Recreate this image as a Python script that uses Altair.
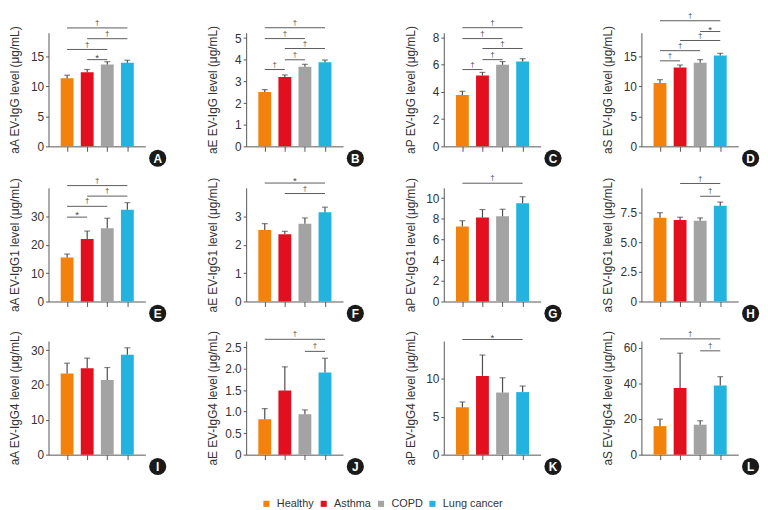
import altair as alt
import pandas as pd

groups = ["Healthy", "Asthma", "COPD", "Lung cancer"]
colors = ["#F2820C", "#E2101E", "#A3A3A3", "#22B3DE"]

letters = ["A", "B", "C", "D", "E", "F", "G", "H", "I", "J", "K", "L"]
titles = [
    "aA EV-IgG level (μg/mL)", "aE EV-IgG level (μg/mL)", "aP EV-IgG level (μg/mL)", "aS EV-IgG level (μg/mL)",
    "aA EV-IgG1 level (μg/mL)", "aE EV-IgG1 level (μg/mL)", "aP EV-IgG1 level (μg/mL)", "aS EV-IgG1 level (μg/mL)",
    "aA EV-IgG4 level (μg/mL)", "aE EV-IgG4 level (μg/mL)", "aP EV-IgG4 level (μg/mL)", "aS EV-IgG4 level (μg/mL)",
]
means = [
    [11.4, 12.4, 13.7, 14.0],
    [2.51, 3.2, 3.68, 3.88],
    [3.78, 5.22, 6.0, 6.25],
    [10.6, 13.2, 14.0, 15.2],
    [15.5, 22.0, 25.8, 32.3],
    [2.52, 2.37, 2.74, 3.14],
    [7.25, 8.12, 8.25, 9.52],
    [7.08, 6.88, 6.82, 8.08],
    [23.3, 24.8, 21.4, 28.7],
    [0.82, 1.49, 0.94, 1.91],
    [6.26, 10.4, 8.2, 8.26],
    [16.0, 37.4, 16.8, 38.8],
]
sems = [
    [0.5, 0.45, 0.45, 0.4],
    [0.11, 0.1, 0.11, 0.11],
    [0.27, 0.22, 0.24, 0.2],
    [0.55, 0.4, 0.5, 0.35],
    [1.2, 2.8, 3.5, 2.5],
    [0.22, 0.1, 0.2, 0.18],
    [0.57, 0.78, 0.68, 0.62],
    [0.42, 0.24, 0.24, 0.32],
    [2.95, 2.9, 3.6, 1.95],
    [0.25, 0.55, 0.1, 0.33],
    [0.7, 2.75, 1.95, 0.8],
    [3.9, 19.5, 2.2, 4.9],
]
y_max = [19, 5.25, 8.36, 19, 40, 4.0, 11, 9.6, 32.6, 2.64, 15, 63.7]
y_ticks = [
    [0, 5, 10, 15], [0, 1, 2, 3, 4, 5], [0, 2, 4, 6, 8], [0, 5, 10, 15],
    [0, 10, 20, 30], [0, 1, 2, 3], [0, 2, 4, 6, 8, 10], [0, 2.5, 5, 7.5],
    [0, 10, 20, 30], [0, 0.5, 1, 1.5, 2, 2.5], [0, 5, 10], [0, 20, 40, 60],
]
one_decimal = [False, False, False, False, False, False, False, True, False, True, False, False]

# significance brackets: (from group, to group, symbol, level)
brackets = [
    [("Healthy", "Lung cancer", "†", 19.8), ("Asthma", "Lung cancer", "†", 18.0),
     ("Healthy", "COPD", "†", 16.2), ("Asthma", "COPD", "*", 14.5)],
    [("Healthy", "Lung cancer", "†", 5.48), ("Healthy", "COPD", "†", 4.98),
     ("Asthma", "Lung cancer", "†", 4.52), ("Asthma", "COPD", "†", 4.0), ("Healthy", "Asthma", "†", 3.55)],
    [("Healthy", "Lung cancer", "†", 8.73), ("Healthy", "COPD", "†", 7.93),
     ("Asthma", "Lung cancer", "†", 7.2), ("Asthma", "COPD", "†", 6.38), ("Healthy", "Asthma", "†", 5.65)],
    [("Healthy", "Lung cancer", "†", 21.0), ("COPD", "Lung cancer", "*", 19.2),
     ("Asthma", "Lung cancer", "†", 17.7), ("Healthy", "COPD", "†", 16.0), ("Healthy", "Asthma", "†", 14.3)],
    [("Healthy", "Lung cancer", "†", 40.8), ("Asthma", "Lung cancer", "†", 37.1),
     ("Healthy", "COPD", "†", 33.5), ("Healthy", "Asthma", "*", 29.7)],
    [("Healthy", "Lung cancer", "*", 4.17), ("Asthma", "Lung cancer", "†", 3.8)],
    [("Healthy", "Lung cancer", "†", 11.45)],
    [("Asthma", "Lung cancer", "†", 9.97), ("COPD", "Lung cancer", "†", 8.89)],
    [],
    [("Healthy", "Lung cancer", "†", 2.68), ("COPD", "Lung cancer", "†", 2.4)],
    [("Healthy", "Lung cancer", "*", 15.2)],
    [("Healthy", "Lung cancer", "†", 64.9), ("COPD", "Lung cancer", "†", 58.2)],
]

FONT = "Liberation Sans"
W, H = 98, 115
AX = "#555555"
SIG = "#4a4a4a"

xscale = alt.Scale(domain=[-0.68, 3.65], nice=False, zero=False)
xaxis = alt.Axis(values=[0, 1, 2, 3], labels=False, title=None, tickSize=5, grid=False,
                 domainColor=AX, tickColor=AX)

legend = alt.Legend(orient="none", legendX=215, legendY=471, direction="horizontal", columns=4,
                    title=None, symbolType="square", symbolSize=38, symbolStrokeWidth=0,
                    labelFontSize=11, labelColor="#333333", labelFont=FONT, columnPadding=4,
                    labelOffset=5, padding=0)
color_scale = alt.Scale(domain=groups, range=colors)


def panel(k):
    df = pd.DataFrame({
        "group": groups,
        "idx": [groups.index(g) for g in groups],
        "mean": means[k],
        "top": [m + s for m, s in zip(means[k], sems[k])],
    })
    yscale = alt.Scale(domain=[0, y_max[k]], nice=False, zero=True)
    axkw = dict(title=titles[k], values=y_ticks[k], titleX=-27, titleY=H / 2, tickSize=3,
                labelPadding=2, grid=False, domainColor=AX, tickColor=AX, labelFontSize=12,
                labelColor="#333333", titleFontSize=12, titleFontWeight="normal",
                titleColor="#333333")
    if one_decimal[k]:
        axkw["labelExpr"] = "datum.value == 0 ? '0' : format(datum.value, '.1f')"
    yaxis = alt.Axis(**axkw)

    X = lambda f: alt.X(f, scale=xscale, axis=xaxis)
    Y = lambda f: alt.Y(f, scale=yscale, axis=yaxis)

    base = alt.Chart(df)
    bars = base.mark_bar(size=13, orient="vertical").encode(
        x=X("idx:Q"),
        y=alt.Y("mean:Q", scale=yscale, axis=yaxis, stack=None),
        color=alt.Color("group:N", scale=color_scale, legend=legend),
    )
    err = base.mark_rule(color="#4d4d4d", strokeWidth=1.2).encode(
        x=X("idx:Q"), y=Y("mean:Q"), y2="top:Q")
    cap = base.mark_tick(orient="horizontal", size=6, thickness=1.2, color="#4d4d4d").encode(
        x=X("idx:Q"), y=Y("top:Q"))
    layers = [bars, err, cap]

    if brackets[k]:
        bdf = pd.DataFrame({
            "x1": [groups.index(b[0]) for b in brackets[k]],
            "x2": [groups.index(b[1]) for b in brackets[k]],
            "sym": [b[2] for b in brackets[k]],
            "level": [b[3] for b in brackets[k]],
        })
        bdf["mid"] = (bdf["x1"] + bdf["x2"]) / 2
        bb = alt.Chart(bdf)
        layers.append(bb.mark_rule(color="#5a5a5a", strokeWidth=1).encode(
            x=X("x1:Q"), x2="x2:Q", y=Y("level:Q")))
        layers.append(bb.transform_filter("datum.sym == '†'").mark_text(
            fontSize=8, color=SIG, fill=SIG, baseline="alphabetic", dy=-3, font=FONT).encode(
            x=X("mid:Q"), y=Y("level:Q"), text="sym:N"))
        layers.append(bb.transform_filter("datum.sym == '*'").mark_text(
            fontSize=10, color=SIG, fill=SIG, baseline="alphabetic", dy=1, font=FONT).encode(
            x=X("mid:Q"), y=Y("level:Q"), text="sym:N"))

    badge = alt.Chart(pd.DataFrame({"letter": [letters[k]]}))
    layers.append(badge.mark_point(filled=True, size=300, color="#1a1a1a", opacity=1,
                                   shape="circle").encode(x=alt.value(110.5), y=alt.value(H + 12)))
    layers.append(badge.mark_text(color="white", fontWeight="bold", fontSize=12, font=FONT,
                                  baseline="middle", dy=0.5).encode(
        x=alt.value(110.5), y=alt.value(H + 12), text="letter:N"))

    return alt.layer(*layers).properties(width=W, height=H)


chart = alt.concat(*[panel(k) for k in range(12)], columns=4,
                   spacing={"row": 7, "column": 39}).properties(padding=0).configure(
    font=FONT).configure_view(stroke=None)

chart.save("out.html", embed_options={"renderer": "svg", "actions": False})
